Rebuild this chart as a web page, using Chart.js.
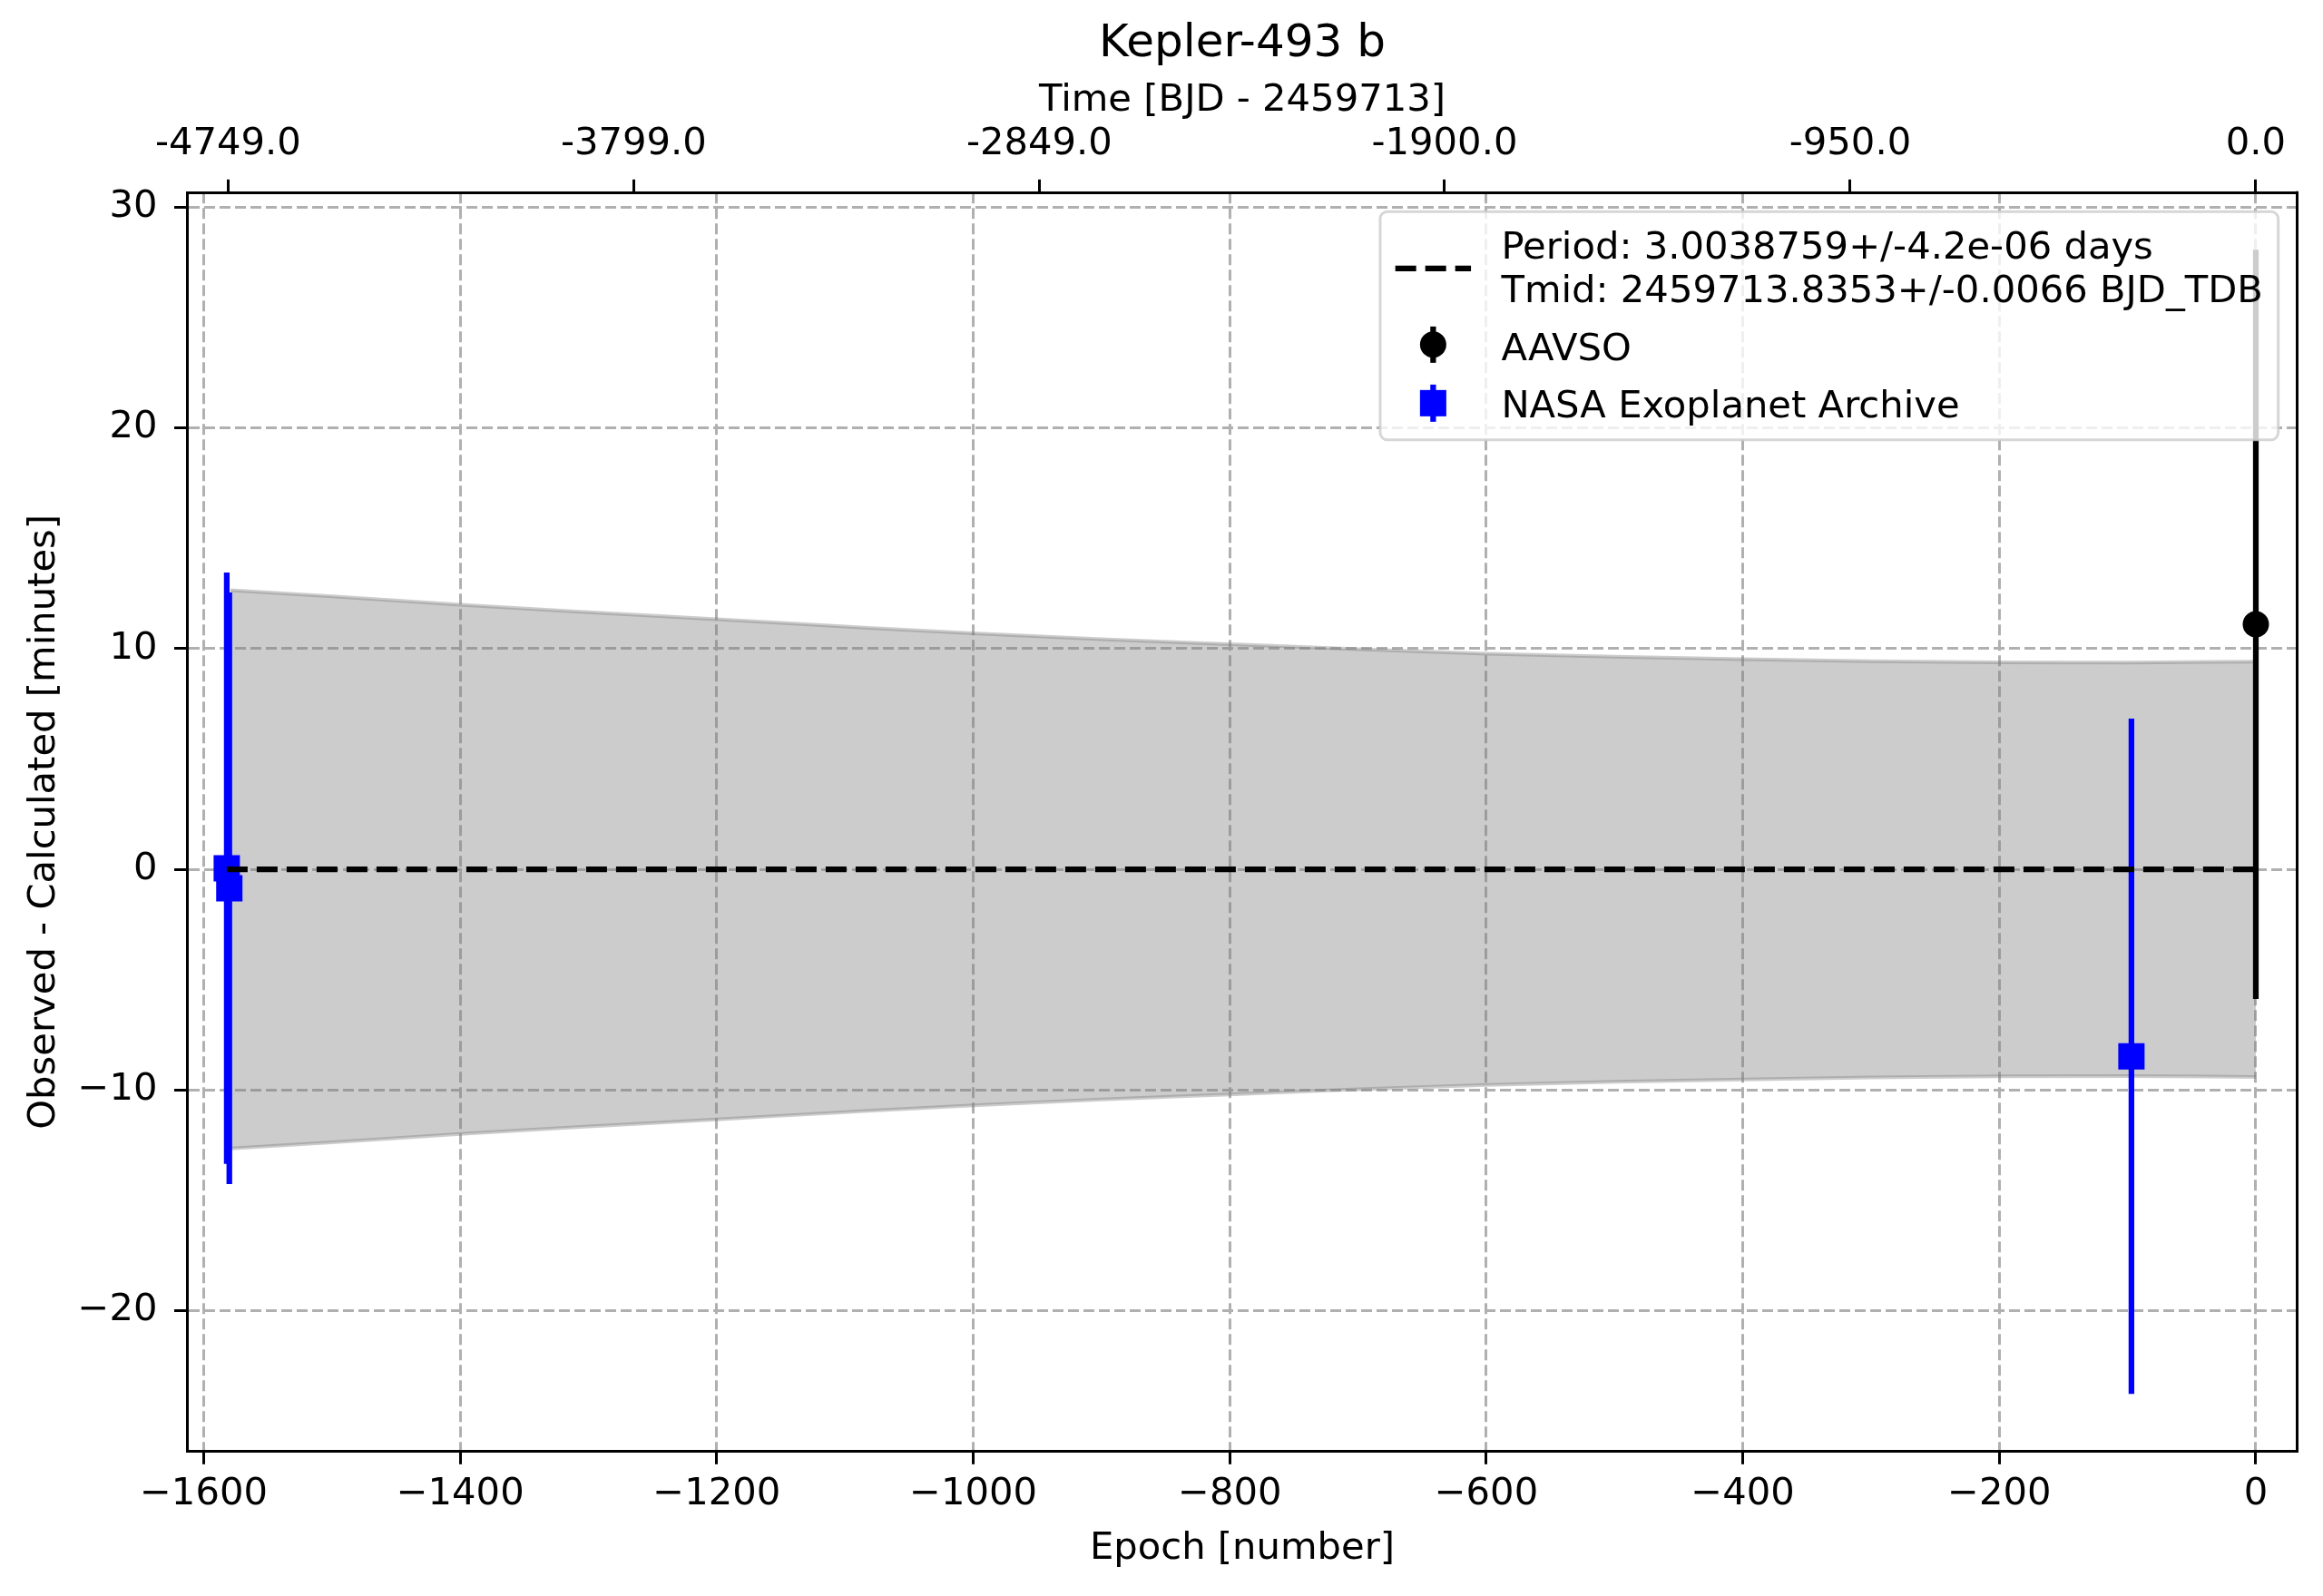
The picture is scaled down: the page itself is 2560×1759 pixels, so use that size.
<!DOCTYPE html>
<html>
<head>
<meta charset="utf-8">
<title>Kepler-493 b O-C</title>
<script src="https://cdn.jsdelivr.net/npm/chart.js@4.4.1/dist/chart.umd.min.js"></script>
<style>
  html, body { margin: 0; padding: 0; background: #fff; }
  #wrap { width: 2560px; height: 1759px; }
</style>
</head>
<body>
<div id="wrap"><canvas id="ocChart"></canvas></div>
<script>
const period = 3.0038759;

// observed minus calculated, minutes
const nasaEpoch = [-1582, -1580, -97];
const nasaOC = [0.05, -0.86, -8.47];
const nasaErr = [13.4, 13.4, 15.3];

const aavsoEpoch = [0];
const aavsoOC = [11.1];
const aavsoErr = [16.97];

const modelEpoch = [-1582, 0];
const modelOC = [0, 0];

// uncertainty envelope
const bandEpoch = [-1579, -1500, -1400, -1300, -1200, -1100, -1000, -900, -800, -700, -600, -500, -400, -300, -200, -100, 0];
const bandUpper = [12.65, 12.37, 11.99, 11.65, 11.33, 11.0, 10.69, 10.43, 10.2, 9.97, 9.77, 9.63, 9.52, 9.43, 9.38, 9.37, 9.41];
const bandLower = [-12.65, -12.37, -11.99, -11.65, -11.33, -11.0, -10.69, -10.43, -10.2, -9.97, -9.77, -9.63, -9.52, -9.43, -9.38, -9.37, -9.41];

const xTicks = [-1600, -1400, -1200, -1000, -800, -600, -400, -200, 0];
const yTicks = [-20, -10, 0, 10, 20, 30];
const topTimes = [-4749.0, -3799.0, -2849.0, -1900.0, -950.0, 0.0];

const xMin = -1612.7, xMax = 32.2;
const yMin = -26.36, yMax = 30.66;

const FS = 41.7;
Chart.defaults.font.family = '"DejaVu Sans", sans-serif';
Chart.defaults.font.size = FS;
Chart.defaults.color = '#000';

const pts = (xs, ys) => xs.map((x, i) => ({ x: x, y: ys[i] }));
const minus = v => (v < 0 ? '\u2212' : '') + Math.abs(v);

const errorBars = {
  id: 'errorBars',
  beforeDatasetDraw(chart, args) {
    const ds = chart.data.datasets[args.index];
    if (!ds.yErr) return;
    const { ctx, chartArea: a, scales: { x, y } } = chart;
    ctx.save();
    ctx.beginPath();
    ctx.rect(a.left, a.top, a.width, a.height);
    ctx.clip();
    ctx.strokeStyle = ds.borderColor;
    ctx.lineWidth = 6.25;
    ds.data.forEach((p, i) => {
      const px = x.getPixelForValue(p.x);
      ctx.beginPath();
      ctx.moveTo(px, y.getPixelForValue(p.y - ds.yErr[i]));
      ctx.lineTo(px, y.getPixelForValue(p.y + ds.yErr[i]));
      ctx.stroke();
    });
    ctx.restore();
  }
};

// right spine + matplotlib style legend inside the axes
const frameLegend = {
  id: 'frameLegend',
  afterDraw(chart) {
    const { ctx, chartArea: a } = chart;
    ctx.save();
    ctx.strokeStyle = '#000';
    ctx.lineWidth = 3;
    ctx.beginPath();
    ctx.moveTo(a.right, a.top - 1.5);
    ctx.lineTo(a.right, a.bottom + 1.5);
    ctx.stroke();

    const dsets = chart.data.datasets;
    const model = dsets[0], nasa = dsets[1], aavso = dsets[2];
    ctx.font = FS + 'px "DejaVu Sans"';
    const labels = [].concat(model.label, aavso.label, nasa.label);
    const textW = Math.max(...labels.map(t => ctx.measureText(t).width));
    const boxW = (0.4 + 2 + 0.8 + 0.4) * FS + textW;
    const boxH = 251.7;
    const right = a.right - 0.5 * FS;
    const top = a.top + 0.5 * FS;
    const left = right - boxW;

    ctx.beginPath();
    ctx.roundRect(left, top, boxW, boxH, 8);
    ctx.fillStyle = 'rgba(255,255,255,0.8)';
    ctx.fill();
    ctx.strokeStyle = 'rgba(204,204,204,0.8)';
    ctx.lineWidth = 3;
    ctx.stroke();

    const hx = left + 0.4 * FS;
    const hw = 2 * FS;
    const tx = hx + hw + 0.8 * FS;
    ctx.fillStyle = '#000';
    ctx.textBaseline = 'alphabetic';
    ctx.textAlign = 'left';

    // model line
    ctx.strokeStyle = '#000';
    ctx.lineWidth = 6.25;
    ctx.setLineDash([23, 10]);
    ctx.beginPath();
    ctx.moveTo(hx, top + 62.7);
    ctx.lineTo(hx + hw, top + 62.7);
    ctx.stroke();
    ctx.setLineDash([]);
    ctx.fillText(model.label[0], tx, top + 51.7);
    ctx.fillText(model.label[1], tx, top + 100);

    // AAVSO
    const cx = hx + hw / 2;
    let cy = top + 146.7;
    ctx.beginPath();
    ctx.moveTo(cx, cy - 20);
    ctx.lineTo(cx, cy + 20);
    ctx.stroke();
    ctx.beginPath();
    ctx.arc(cx, cy, 14.5, 0, Math.PI * 2);
    ctx.fill();
    ctx.fillText(aavso.label, tx, top + 163.4);

    // NASA
    cy = top + 211.2;
    ctx.strokeStyle = '#0000ff';
    ctx.fillStyle = '#0000ff';
    ctx.beginPath();
    ctx.moveTo(cx, cy - 20.5);
    ctx.lineTo(cx, cy + 20.5);
    ctx.stroke();
    ctx.fillRect(cx - 14.5, cy - 14.5, 29, 29);
    ctx.fillStyle = '#000';
    ctx.fillText(nasa.label, tx, top + 226.7);
    ctx.restore();
  }
};

const gridCommon = { color: '#b0b0b0', lineWidth: 3, tickLength: 14.5, tickColor: '#000', tickWidth: 3 };
const borderCommon = { display: true, color: '#000', width: 3, dash: [12, 5] };

new Chart(document.getElementById('ocChart'), {
  type: 'scatter',
  data: {
    datasets: [
      {
        type: 'line',
        label: ['Period: 3.0038759+/-4.2e-06 days', 'Tmid: 2459713.8353+/-0.0066 BJD_TDB'],
        data: pts(modelEpoch, modelOC),
        borderColor: '#000',
        borderWidth: 6.25,
        borderDash: [23, 10],
        pointRadius: 0,
        fill: false,
        order: 1
      },
      {
        label: 'NASA Exoplanet Archive',
        data: pts(nasaEpoch, nasaOC),
        yErr: nasaErr,
        borderColor: '#0000ff',
        backgroundColor: '#0000ff',
        pointStyle: 'rect',
        pointRadius: 20.5,
        pointBorderWidth: 0,
        order: 2
      },
      {
        label: 'AAVSO',
        data: pts(aavsoEpoch, aavsoOC),
        yErr: aavsoErr,
        borderColor: '#000',
        backgroundColor: '#000',
        pointStyle: 'circle',
        pointRadius: 14.5,
        pointBorderWidth: 0,
        order: 3
      },
      {
        type: 'line',
        label: 'band upper',
        data: pts(bandEpoch, bandUpper),
        borderColor: 'rgba(128,128,128,0.4)',
        borderWidth: 4,
        backgroundColor: 'rgba(128,128,128,0.4)',
        pointRadius: 0,
        cubicInterpolationMode: 'monotone',
        fill: '+1',
        order: 6
      },
      {
        type: 'line',
        label: 'band lower',
        data: pts(bandEpoch, bandLower),
        borderColor: 'rgba(128,128,128,0.4)',
        borderWidth: 4,
        pointRadius: 0,
        cubicInterpolationMode: 'monotone',
        fill: false,
        order: 5
      }
    ]
  },
  options: {
    responsive: true,
    maintainAspectRatio: false,
    devicePixelRatio: 1,
    animation: false,
    layout: { padding: { left: 0, right: 28.5, top: 0, bottom: 0 } },
    plugins: {
      legend: { display: false },
      tooltip: { enabled: false },
      title: {
        display: true,
        text: 'Kepler-493 b',
        fullSize: false,
        color: '#000',
        font: { size: 50, weight: 'normal' },
        padding: { top: 19.5, bottom: 6 }
      }
    },
    scales: {
      x: {
        type: 'linear',
        position: 'bottom',
        min: xMin,
        max: xMax,
        afterBuildTicks: s => { s.ticks = xTicks.map(v => ({ value: v })); },
        afterFit: s => { s.height = 159.7; },
        ticks: { callback: v => minus(v), autoSkip: false, maxRotation: 0, padding: 8, color: '#000' },
        grid: gridCommon,
        border: borderCommon,
        title: { display: true, text: 'Epoch [number]', color: '#000', padding: { top: 0, bottom: 27 } }
      },
      x2: {
        type: 'linear',
        position: 'top',
        min: xMin,
        max: xMax,
        afterBuildTicks: s => { s.ticks = topTimes.map(t => ({ value: t / period })); },
        afterFit: s => { s.height = 126.8; },
        ticks: { callback: (v, i) => topTimes[i].toFixed(1), autoSkip: false, maxRotation: 0, padding: 14, color: '#000' },
        grid: { drawOnChartArea: false, tickLength: 14.5, tickColor: '#000', tickWidth: 3 },
        border: { display: true, color: '#000', width: 3 },
        title: { display: true, text: 'Time [BJD - 2459713]', color: '#000', padding: { top: 0.6, bottom: 0 } }
      },
      y: {
        type: 'linear',
        position: 'left',
        min: yMin,
        max: yMax,
        afterBuildTicks: s => { s.ticks = yTicks.map(v => ({ value: v })); },
        afterFit: s => { s.width = 206.5; },
        ticks: { callback: v => minus(v), padding: 18.5, color: '#000' },
        grid: gridCommon,
        border: borderCommon,
        title: { display: true, text: 'Observed - Calculated [minutes]', color: '#000', padding: { top: 24, bottom: 0 } }
      }
    }
  },
  plugins: [errorBars, frameLegend]
});
</script>
</body>
</html>
